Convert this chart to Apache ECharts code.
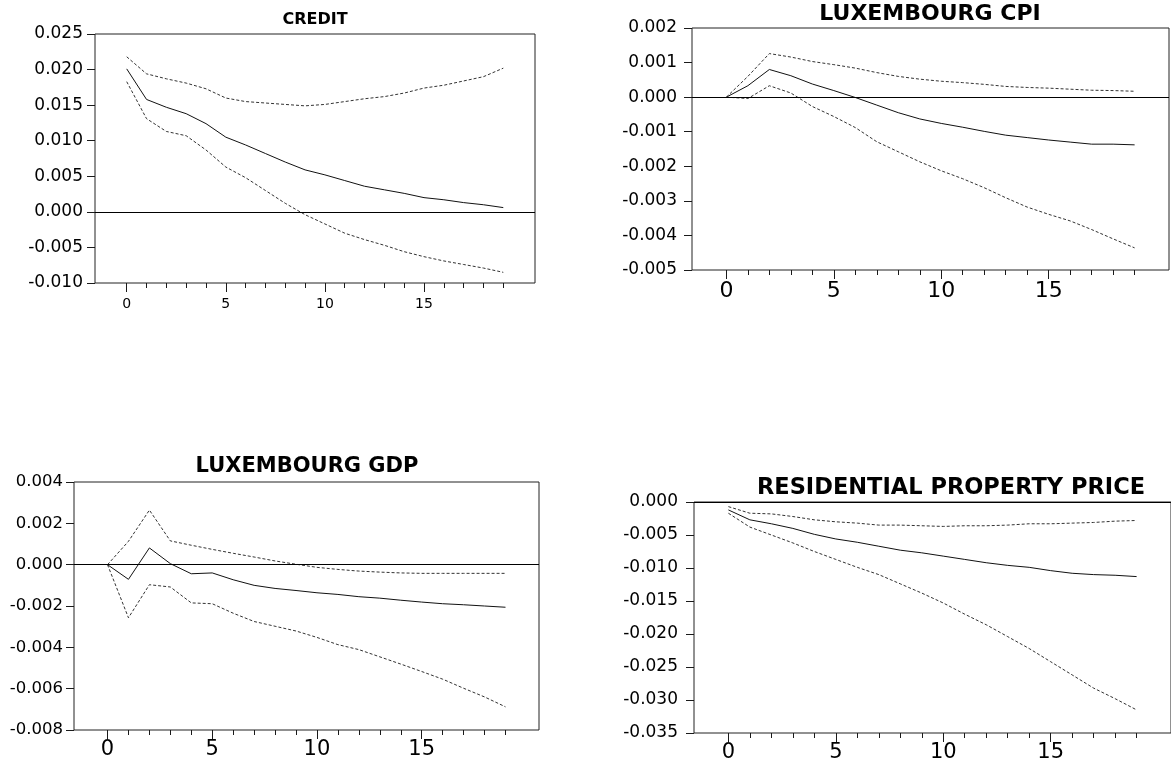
<!DOCTYPE html>
<html>
<head>
<meta charset="utf-8">
<script src="https://cdn.jsdelivr.net/npm/echarts@6/dist/echarts.min.js"></script>
<style>
  html, body { margin: 0; padding: 0; background: #fff; }
  #chart { width: 1171px; height: 766px; }
</style>
</head>
<body>
<div id="chart"></div>
<script>
// Impulse responses over 20 horizons: median response with lower/upper bands.
const horizons = [0, 1, 2, 3, 4, 5, 6, 7, 8, 9, 10, 11, 12, 13, 14, 15, 16, 17, 18, 19];
const xTickLabels = [0, 5, 10, 15];

const panelTitles = ['CREDIT', 'LUXEMBOURG CPI', 'LUXEMBOURG GDP', 'RESIDENTIAL PROPERTY PRICE'];

const creditMid   = [0.0201, 0.0158, 0.0147, 0.0138, 0.0124, 0.0105, 0.0094, 0.0082, 0.0070, 0.0059, 0.0052, 0.0044, 0.0036, 0.0031, 0.0026, 0.0020, 0.0017, 0.0013, 0.0010, 0.0006];
const creditUpper = [0.0218, 0.0194, 0.0187, 0.0181, 0.0173, 0.0160, 0.0155, 0.0153, 0.0151, 0.0149, 0.0151, 0.0155, 0.0159, 0.0162, 0.0167, 0.0174, 0.0178, 0.0184, 0.0190, 0.0202];
const creditLower = [0.0183, 0.0131, 0.0113, 0.0107, 0.0087, 0.0063, 0.0048, 0.0030, 0.0012, -0.0004, -0.0017, -0.0030, -0.0039, -0.0047, -0.0056, -0.0063, -0.0069, -0.0074, -0.0079, -0.0085];

const cpiMid   = [0, 0.00033, 0.0008, 0.00062, 0.00038, 0.00019, -0.00001, -0.00023, -0.00045, -0.00063, -0.00076, -0.00087, -0.00099, -0.0011, -0.00117, -0.00124, -0.0013, -0.00136, -0.00136, -0.00138];
const cpiUpper = [0, 0.0006, 0.00126, 0.00116, 0.00103, 0.00094, 0.00084, 0.00071, 0.0006, 0.00052, 0.00046, 0.00042, 0.00037, 0.00031, 0.00028, 0.00026, 0.00023, 0.0002, 0.00019, 0.00017];
const cpiLower = [0, -0.00004, 0.00033, 0.00012, -0.00027, -0.00056, -0.00088, -0.00129, -0.00158, -0.00187, -0.00213, -0.00236, -0.00262, -0.00291, -0.00318, -0.00339, -0.00358, -0.00383, -0.0041, -0.00436];

const gdpMid   = [0, -0.00071, 0.00081, 0.00005, -0.00044, -0.0004, -0.00073, -0.001, -0.00115, -0.00125, -0.00136, -0.00144, -0.00155, -0.00162, -0.00172, -0.00181, -0.00189, -0.00194, -0.002, -0.00206];
const gdpUpper = [0, 0.00113, 0.00264, 0.00115, 0.00094, 0.00074, 0.00055, 0.00037, 0.00018, 0.00002, -0.00013, -0.00023, -0.00031, -0.00036, -0.0004, -0.00042, -0.00042, -0.00042, -0.00042, -0.00042];
const gdpLower = [0, -0.00257, -0.00097, -0.00108, -0.00185, -0.00189, -0.00235, -0.00275, -0.00298, -0.00321, -0.00352, -0.00387, -0.00411, -0.00446, -0.00481, -0.00517, -0.00554, -0.00598, -0.0064, -0.00688];

const rppMid   = [-0.0012, -0.0027, -0.0033, -0.0040, -0.0049, -0.0056, -0.0061, -0.0067, -0.0073, -0.0077, -0.0082, -0.0087, -0.0092, -0.0096, -0.0099, -0.0104, -0.0108, -0.0110, -0.0111, -0.0113];
const rppUpper = [-0.0007, -0.0017, -0.0018, -0.0022, -0.0027, -0.0030, -0.0032, -0.0035, -0.0035, -0.0036, -0.0037, -0.0036, -0.0036, -0.0035, -0.0033, -0.0033, -0.0032, -0.0031, -0.0029, -0.0028];
const rppLower = [-0.0017, -0.0038, -0.0050, -0.0062, -0.0075, -0.0087, -0.0099, -0.0110, -0.0124, -0.0138, -0.0153, -0.0170, -0.0186, -0.0204, -0.0222, -0.0242, -0.0262, -0.0282, -0.0298, -0.0315];

// Layout and axis scale of each panel
const panels = [
  { title: panelTitles[0], mid: creditMid, upper: creditUpper, lower: creditLower,
    grid: { left: 95, top: 34, width: 440, height: 249 },
    y: { min: -0.010, max: 0.025, interval: 0.005 },
    titlePos: { x: 315, y: 21, size: 16 },
    yFont: 17, yMargin: 12, xFont: 14, xMargin: 14 },
  { title: panelTitles[1], mid: cpiMid, upper: cpiUpper, lower: cpiLower,
    grid: { left: 692, top: 28, width: 477, height: 242 },
    y: { min: -0.005, max: 0.002, interval: 0.001 },
    titlePos: { x: 930, y: 16, size: 22 },
    yFont: 17, yMargin: 15, xFont: 22, xMargin: 10 },
  { title: panelTitles[2], mid: gdpMid, upper: gdpUpper, lower: gdpLower,
    grid: { left: 74, top: 482, width: 465, height: 248 },
    y: { min: -0.008, max: 0.004, interval: 0.002 },
    titlePos: { x: 307, y: 469, size: 21 },
    yFont: 16.5, yMargin: 11, xFont: 21, xMargin: 9 },
  { title: panelTitles[3], mid: rppMid, upper: rppUpper, lower: rppLower,
    grid: { left: 694, top: 502, width: 478, height: 231 },
    y: { min: -0.035, max: 0, interval: 0.005 },
    titlePos: { x: 951, y: 490, size: 22.5 },
    yFont: 17, yMargin: 16, xFont: 21, xMargin: 9 }
];

const LABEL_FONT = '"DejaVu Sans", sans-serif';
const INK = '#1a1a1a';

function fmt3(v) {
  if (Math.abs(v) < 1e-9) return '0.000';
  return v.toFixed(3);
}

const toPoints = arr => horizons.map((h, i) => [h, arr[i]]);

const option = {
  animation: false,
  backgroundColor: '#fff',
  title: [],
  grid: [],
  xAxis: [],
  yAxis: [],
  series: []
};

panels.forEach((p, i) => {
  option.title.push({
    text: p.title,
    left: p.titlePos.x,
    top: p.titlePos.y - p.titlePos.size * 0.6,
    textAlign: 'center',
    padding: 0,
    textStyle: { fontFamily: LABEL_FONT, fontWeight: 'bold', fontSize: p.titlePos.size, color: '#000' }
  });

  option.grid.push(Object.assign({
    show: true, borderColor: '#222', borderWidth: 1, backgroundColor: 'transparent', containLabel: false
  }, p.grid));

  // Axis with a tick on every horizon and labels every fifth step
  option.xAxis.push({
    type: 'value', gridIndex: i, position: 'bottom', min: -1.6, max: 20.6,
    axisLine: { show: false, onZero: false },
    splitLine: { show: false },
    axisTick: { show: true, customValues: horizons, length: 5, lineStyle: { color: INK, width: 1 } },
    axisLabel: { show: true, customValues: xTickLabels, fontFamily: LABEL_FONT, fontSize: p.xFont, color: '#000', margin: p.xMargin }
  });
  // Longer ticks at the labelled horizons
  option.xAxis.push({
    type: 'value', gridIndex: i, position: 'bottom', min: -1.6, max: 20.6,
    axisLine: { show: false, onZero: false },
    splitLine: { show: false },
    axisTick: { show: true, customValues: xTickLabels, length: 9, lineStyle: { color: INK, width: 1 } },
    axisLabel: { show: false }
  });

  option.yAxis.push({
    type: 'value', gridIndex: i, min: p.y.min, max: p.y.max, interval: p.y.interval,
    axisLine: { show: false, onZero: false },
    splitLine: { show: false },
    axisTick: { show: true, length: 8, lineStyle: { color: INK, width: 1 } },
    axisLabel: { formatter: fmt3, fontFamily: LABEL_FONT, fontSize: p.yFont, color: '#000', margin: p.yMargin }
  });

  const xi = i * 2;
  option.series.push({
    type: 'line', xAxisIndex: xi, yAxisIndex: i, data: toPoints(p.mid),
    symbol: 'none', silent: true,
    lineStyle: { color: '#111', width: 1 },
    markLine: {
      silent: true, symbol: 'none', label: { show: false },
      lineStyle: { color: '#000', width: 1, type: 'solid' },
      data: [{ yAxis: 0 }]
    }
  });
  option.series.push({
    type: 'line', xAxisIndex: xi, yAxisIndex: i, data: toPoints(p.upper),
    symbol: 'none', silent: true,
    lineStyle: { color: '#333', width: 1, type: [3, 2] }
  });
  option.series.push({
    type: 'line', xAxisIndex: xi, yAxisIndex: i, data: toPoints(p.lower),
    symbol: 'none', silent: true,
    lineStyle: { color: '#333', width: 1, type: [3, 2] }
  });
});

const chart = echarts.init(document.getElementById('chart'), null, { renderer: 'canvas' });
chart.setOption(option);
</script>
</body>
</html>
